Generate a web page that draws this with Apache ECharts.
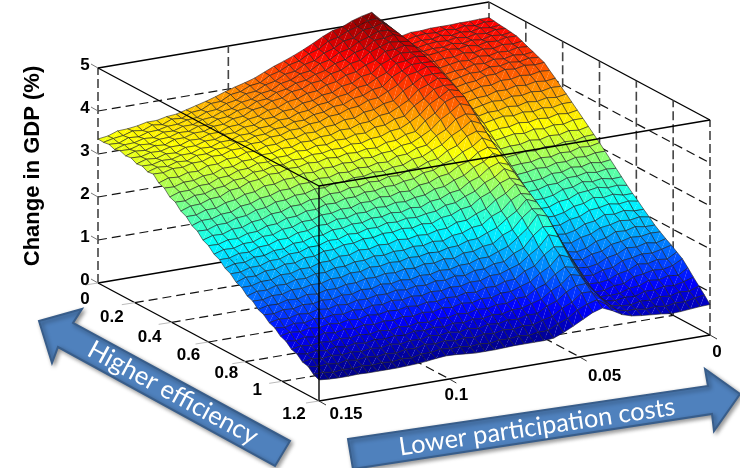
<!DOCTYPE html>
<html><head><meta charset="utf-8">
<style>html,body{margin:0;padding:0;background:#fff}#c{width:740px;height:468px}</style>
<script src="https://cdn.jsdelivr.net/npm/echarts@6/dist/echarts.min.js"></script>
</head><body><div id="c"></div><script>
const zTicks=[0,1,2,3,4,5];
const efficiencyTicks=[0,0.2,0.4,0.6,0.8,1,1.2];
const costTicks=[0.15,0.1,0.05,0];
const zAxisName='Change in GDP (%)';
const leftArrowText='Higher efficiency';
const rightArrowText='Lower participation costs';
// Change in GDP x100; rows: efficiency 0..1.2, columns: cost 0.15..0
const gdpRows=[
[335,338,346,347,350,355,355,360,362,368,374,380,387,395,402,408,415,425,435,443,452,462,473,485,495,500,510,517,522,500,460,455,460,460,462,462,462,463,463,464,464],
[334,339,342,349,346,355,352,361,359,369,371,382,383,395,398,408,411,424,430,441,446,459,466,481,486,497,503,513,514,497,458,453,458,460,458,462,458,463,459,464,462],
[336,335,344,342,349,350,355,356,362,364,373,375,385,389,400,402,413,418,430,433,445,450,464,471,484,487,502,504,511,494,456,451,455,454,459,455,459,456,461,458,460],
[331,338,339,345,343,352,351,358,358,366,368,377,380,391,394,404,407,419,423,434,437,450,455,468,473,486,493,502,501,491,454,449,453,455,453,457,453,458,455,460,459],
[335,334,341,339,346,347,354,353,361,361,370,372,382,385,396,398,409,413,423,426,436,441,453,458,471,476,492,493,498,488,452,447,450,449,454,450,454,451,457,454,457],
[330,337,335,342,340,349,349,356,356,364,365,374,376,387,390,400,403,414,416,426,428,440,444,456,460,475,483,491,488,485,450,445,448,451,448,452,448,453,451,456,455],
[332,331,337,336,342,342,350,349,357,357,366,367,376,379,389,391,401,404,413,415,425,429,440,444,456,463,480,481,486,480,444,437,440,440,446,442,447,444,450,447,450],
[325,332,330,337,335,344,344,351,351,359,359,368,369,379,380,390,391,401,403,412,414,425,428,440,443,460,469,479,477,475,438,429,433,437,435,441,438,443,441,446,444],
[327,326,332,331,337,337,345,344,352,352,360,360,369,370,380,380,389,391,400,402,411,414,425,427,439,448,466,468,475,470,432,421,425,426,433,431,437,434,439,436,439],
[320,327,325,332,330,339,339,346,346,354,353,361,362,370,371,379,379,388,390,399,400,410,413,423,426,445,455,466,466,465,426,413,418,423,422,430,428,433,430,435,433],
[322,321,327,326,332,332,340,339,347,347,354,354,362,362,370,370,377,378,387,388,397,399,409,411,422,433,452,456,464,460,420,405,410,412,420,420,427,424,429,426,428],
[308,316,314,321,320,329,329,337,337,345,344,352,352,359,359,366,365,373,374,382,382,392,394,404,407,426,438,452,454,453,412,395,400,406,405,412,411,416,413,418,416],
[303,302,309,309,316,317,326,326,335,335,342,342,349,348,356,355,361,361,369,368,376,377,387,389,400,412,432,440,451,446,404,385,390,391,398,397,403,400,405,402,405],
[289,297,297,304,304,314,315,324,325,333,332,339,339,346,344,351,349,356,355,362,361,371,372,382,385,405,418,436,441,439,396,375,380,385,383,389,387,392,389,394,393],
[284,283,292,292,300,302,312,313,323,323,330,329,336,335,341,340,345,344,350,348,355,356,365,367,378,391,412,424,438,432,388,365,370,370,376,373,379,376,381,378,382],
[270,278,279,287,288,299,301,311,313,321,320,327,326,332,330,336,333,339,337,342,340,349,350,360,363,384,398,420,428,425,380,355,360,364,361,366,363,368,365,370,370],
[264,264,272,272,281,284,293,295,305,305,312,312,319,317,323,322,327,325,331,329,335,336,345,347,358,370,390,403,419,411,367,342,346,346,352,349,354,351,357,354,358],
[250,258,258,265,266,276,278,287,289,297,297,304,304,310,308,315,313,319,317,323,321,331,332,342,345,363,374,394,402,397,354,329,333,337,334,340,337,342,340,346,346],
[244,243,251,251,259,261,270,272,281,282,289,289,296,295,302,301,307,306,312,310,316,317,327,329,340,349,366,377,393,383,341,316,319,319,325,322,328,326,332,329,334],
[230,237,236,244,244,253,255,264,265,274,274,282,281,288,287,294,293,300,298,305,303,312,314,324,327,342,350,368,376,369,328,303,306,310,307,313,311,317,315,321,322],
[224,223,230,229,237,238,247,248,257,258,266,266,274,273,280,280,287,286,292,291,297,299,309,311,322,328,342,351,367,355,315,290,292,292,298,296,302,300,307,305,310],
[211,218,217,224,224,233,233,242,243,252,252,260,260,266,265,273,272,279,276,283,281,291,293,303,306,320,327,344,352,344,304,277,279,284,282,289,288,294,292,297,297],
[205,205,212,211,219,220,228,228,237,238,246,245,253,252,259,258,265,263,269,267,273,275,285,287,298,305,320,329,345,333,293,264,265,267,275,274,282,279,285,281,284],
[192,199,198,206,206,214,214,223,223,231,231,239,239,245,244,251,250,256,253,260,257,267,269,279,282,297,305,322,330,322,282,251,252,259,259,268,268,273,269,273,271],
[186,186,193,193,201,201,209,209,217,217,225,224,232,230,237,236,243,241,246,244,249,251,261,263,274,282,298,307,323,311,271,238,238,242,252,253,262,258,262,257,258],
[173,181,180,188,188,196,195,203,203,211,211,218,218,224,223,229,228,233,230,236,233,243,245,255,258,274,283,300,308,300,260,225,225,234,236,246,248,252,247,249,245],
[168,168,174,174,182,181,188,187,195,195,202,201,209,207,213,211,218,215,220,218,224,225,235,236,247,255,272,283,301,290,249,212,211,216,226,229,239,235,239,233,233],
[155,162,161,168,167,174,173,180,179,186,186,192,192,198,196,201,200,205,203,209,206,215,217,226,228,244,253,274,286,280,238,199,197,206,209,220,222,227,223,226,222],
[150,149,155,154,161,160,165,164,171,170,177,176,183,181,186,184,190,188,193,191,197,198,206,207,217,225,242,256,279,270,227,186,183,188,199,202,213,210,215,210,210],
[137,143,142,148,146,153,150,156,155,161,161,167,166,171,169,174,172,178,176,182,179,188,188,196,198,214,223,247,264,260,216,173,169,178,182,193,196,202,199,203,199],
[132,130,136,134,140,138,143,141,147,145,152,150,157,154,159,156,162,160,166,164,170,170,178,178,187,195,212,230,257,250,205,160,155,160,172,176,187,185,191,187,187],
[120,125,123,129,126,132,129,135,132,138,137,142,141,146,143,148,146,152,150,156,153,161,161,169,170,185,194,219,236,233,190,148,144,153,156,168,171,177,175,179,178],
[115,112,118,115,121,118,123,120,126,123,129,127,133,130,135,132,138,136,141,139,145,144,152,152,160,167,184,199,224,216,175,136,133,137,148,152,163,161,167,163,169],
[103,108,105,110,107,112,109,114,111,117,114,119,117,122,119,124,122,127,125,131,128,135,134,142,143,158,166,188,203,199,160,124,122,130,132,144,147,152,150,155,161],
[98,95,100,96,102,98,103,100,105,102,106,104,109,106,111,108,114,111,117,114,120,118,125,125,133,140,156,168,191,182,145,112,111,114,124,128,139,136,142,139,152],
[86,90,87,91,88,92,89,93,90,95,91,96,93,98,95,100,98,103,100,106,103,109,108,116,116,130,138,157,170,165,130,100,100,107,108,120,123,128,126,131,143],
[82,78,82,78,83,79,84,80,85,82,86,83,89,86,90,87,92,89,94,91,96,94,100,100,107,113,129,139,159,153,123,96,95,96,104,106,115,112,118,115,129],
[70,74,70,74,71,74,71,75,72,77,73,78,76,82,78,82,78,83,79,85,82,87,85,91,90,104,112,129,140,141,116,93,90,94,92,100,99,104,102,107,114],
[67,62,65,61,66,62,66,62,66,63,68,66,72,69,73,68,72,68,73,70,75,72,77,75,82,87,102,112,130,129,109,89,85,83,88,86,91,88,94,92,100],
[55,56,52,55,53,56,53,56,53,57,55,60,60,64,61,62,58,61,58,62,61,64,61,65,65,77,85,101,111,117,102,86,80,80,76,79,75,79,78,83,86],
[49,47,46,46,47,46,46,46,46,47,48,50,53,55,54,52,50,50,50,51,52,52,52,52,54,63,74,86,98,105,95,82,75,72,70,68,65,66,68,70,71]
];

// oblique 3D view: efficiency, cost, z -> plane
const ORIGIN=[98,283], EFF_V=[221/1.2,118/1.2], COST_V=[-391/0.15,66/0.15], Z_V=[0,-43];
function project(e,cost,z){
  const dc=cost-0.15;
  return [ORIGIN[0]+EFF_V[0]*e+COST_V[0]*dc+Z_V[0]*z, ORIGIN[1]+EFF_V[1]*e+COST_V[1]*dc+Z_V[1]*z];
}
const NR=gdpRows.length-1, NC=gdpRows[0].length-1;
const effAt=i=>1.2*i/NR, costAt=j=>0.15*(1-j/NC);
const clamp=v=>Math.max(0,Math.min(1,v));
function jet(z){
  const c=clamp((z-0.45)/(5.22-0.45));
  const f=k=>Math.round(255*clamp(1.5-Math.abs(4*c-k)));
  return 'rgb('+f(3)+','+f(2)+','+f(1)+')';
}
const cells=[];
for(let i=0;i<NR;i++)for(let j=NC-1;j>=0;j--)cells.push([i,j]);

function seg(list,a,b,kind){list.push({a,b,kind});}
const E0=0,E1=1.2,C0=0.15,C1=0;
const back=[],front=[];
zTicks.forEach(z=>{
  const k=z===0||z===5?'solid':'dashH';
  seg(back,[E0,C0,z],[E0,C1,z],k);
  seg(back,[E0,C1,z],[E1,C1,z],k);
});
[0.15,0.1,0.05,0].forEach(c=>seg(back,[E0,c,0],[E0,c,5],'dashV'));
efficiencyTicks.slice(1).forEach(e=>seg(back,[e,C1,0],[e,C1,5],'dashV'));
efficiencyTicks.slice(1,-1).forEach(e=>seg(back,[e,C0,0],[e,C1,0],'dashH'));
[0.1,0.05].forEach(c=>seg(back,[E0,c,0],[E1,c,0],'dashH'));
seg(front,[E0,C0,5],[E1,C0,5],'solid');
seg(front,[E1,C0,5],[E1,C1,5],'solid');
seg(front,[E1,C0,0],[E1,C0,5],'solid');
seg(front,[E0,C0,0],[E1,C0,0],'solid');
seg(front,[E1,C0,0],[E1,C1,0],'solid');

const lineStyles={
  solid:{stroke:'#000',lineWidth:1.4},
  dashH:{stroke:'#111',lineWidth:1.2,lineDash:[9,5]},
  dashV:{stroke:'#444',lineWidth:1.6,lineDash:[9,4]}
};
function segRender(list){
  return function(params,api){
    const s=list[params.dataIndex];
    const p=api.coord(project(...s.a)),q=api.coord(project(...s.b));
    return {type:'line',silent:true,shape:{x1:p[0],y1:p[1],x2:q[0],y2:q[1]},style:lineStyles[s.kind]};
  };
}
function surfaceRender(params,api){
  const i=api.value(0),j=api.value(1);
  const pt=(a,b)=>api.coord(project(effAt(a),costAt(b),gdpRows[a][b]/100));
  const A=pt(i,j),B=pt(i+1,j),C=pt(i,j+1),D=pt(i+1,j+1);
  const mean=(gdpRows[i][j]+gdpRows[i+1][j]+gdpRows[i][j+1]+gdpRows[i+1][j+1])/400;
  const col=jet(mean);
  return {type:'group',silent:true,children:[
    {type:'polygon',shape:{points:[A,B,C]},style:{fill:col}},
    {type:'polygon',shape:{points:[B,D,C]},style:{fill:col}},
    {type:'polygon',shape:{points:[A,B,D,C]},style:{fill:'none',stroke:'rgba(30,30,30,0.68)',lineWidth:0.85}}
  ]};
}

const g=[];
const boldTick='bold 17px "Liberation Sans"';
function label(text,x,y,font,fill,rot){
  g.push({type:'text',x,y,rotation:rot||0,z:20,silent:true,style:{text:String(text),font,fill:fill||'#000',align:'center',verticalAlign:'middle'}});
}
const zLabelOff=[-13,-3], effLabelOff=[[-13,16],[-23,15],[-22,15],[-20,13],[-19,12],[-25,9],[-25,13]], costLabelOff=[[27,13],[7,16],[25,19],[7,17]];
zTicks.forEach(z=>{const p=project(0,0.15,z);label(z,p[0]+zLabelOff[0],p[1]+zLabelOff[1],boldTick);
  g.push({type:'line',z:5,silent:true,shape:{x1:p[0],y1:p[1],x2:p[0]-7,y2:p[1]-4},style:{stroke:'#777',lineWidth:1}});});
efficiencyTicks.forEach((e,k)=>{const p=project(e,0.15,0);label(e,p[0]+effLabelOff[k][0],p[1]+effLabelOff[k][1],boldTick);
  g.push({type:'line',z:5,silent:true,shape:{x1:p[0],y1:p[1],x2:p[0]-13,y2:p[1]+2},style:{stroke:'#bbb',lineWidth:1}});});
costTicks.forEach((c,k)=>{const p=project(1.2,c,0);label(c,p[0]+costLabelOff[k][0],p[1]+costLabelOff[k][1],boldTick);
  g.push({type:'line',z:5,silent:true,shape:{x1:p[0],y1:p[1],x2:p[0]+7,y2:p[1]+4},style:{stroke:'#333',lineWidth:1}});});
label(zAxisName,33,166,'bold 22px "Liberation Sans"','#000',Math.PI/2);

const arrowStyle={fill:'#4F81BD',stroke:'#385D8A',lineWidth:2,shadowBlur:4,shadowColor:'rgba(0,0,0,0.4)',shadowOffsetX:2,shadowOffsetY:2};
g.push({type:'polygon',z:10,silent:true,shape:{points:[[39,321],[82,309],[73,323],[290,441],[275,466],[58,347],[52,363]]},style:arrowStyle});
g.push({type:'polygon',z:10,silent:true,shape:{points:[[348,439],[708,386],[705,369],[740,394],[714,431],[712,414],[353,469]]},style:arrowStyle});
label(leftArrowText,173,393,'25.5px Lato','#fff',-Math.atan2(118,217));
label(rightArrowText,537,427,'25.3px Lato','#fff',Math.atan2(53,360));

const chart=echarts.init(document.getElementById('c'),null,{renderer:'canvas',width:740,height:468});
const idx=l=>l.map((_,k)=>[k]);
chart.setOption({
  animation:false,backgroundColor:'#fff',
  grid:{left:0,top:0,width:740,height:468,show:false},
  xAxis:{type:'value',min:0,max:740,show:false},
  yAxis:{type:'value',min:0,max:468,inverse:true,show:false},
  graphic:g,
  series:[
    {type:'custom',name:'walls',coordinateSystem:'cartesian2d',clip:false,silent:true,z:1,progressive:0,data:idx(back),renderItem:segRender(back)},
    {type:'custom',name:'surface',coordinateSystem:'cartesian2d',clip:false,silent:true,z:2,progressive:0,data:cells,renderItem:surfaceRender},
    {type:'custom',name:'box',coordinateSystem:'cartesian2d',clip:false,silent:true,z:3,progressive:0,data:idx(front),renderItem:segRender(front)}
  ]
});
</script></body></html>
